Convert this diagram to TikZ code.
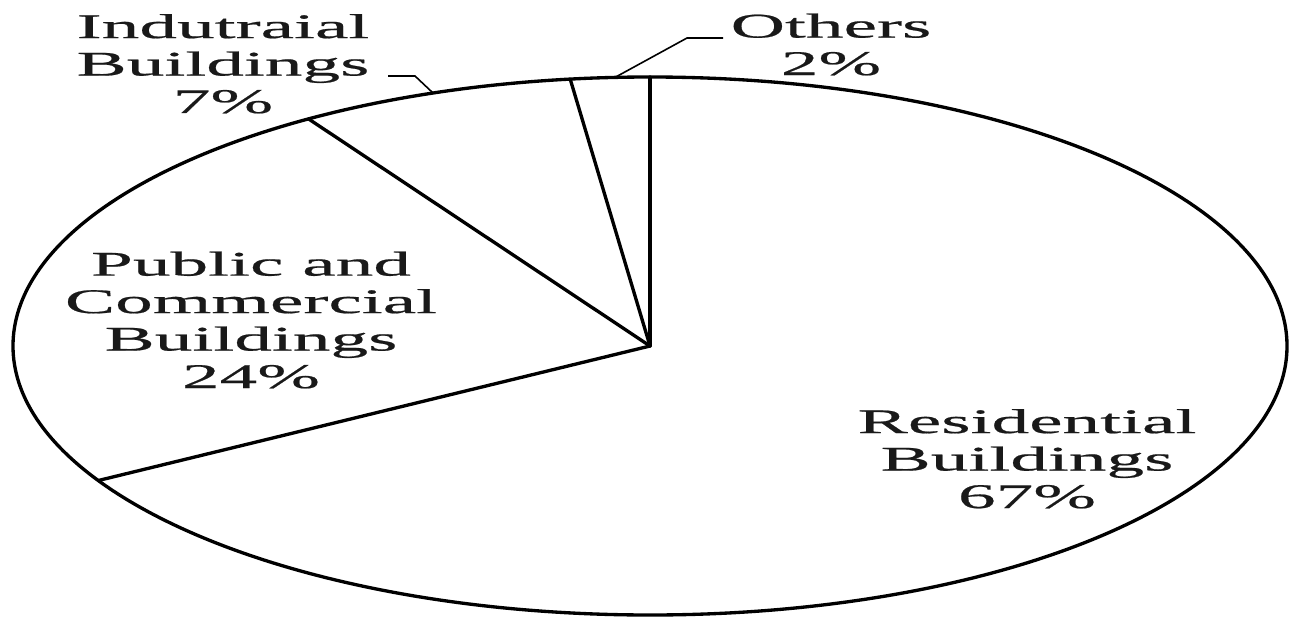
\documentclass[tikz,border=0pt]{standalone}
\usepackage{fontspec}
\newfontfamily\piefont[FakeStretch=2.18,FakeBold=0.6]{Liberation Serif}
\begin{document}
\begin{tikzpicture}[x=0.75pt,y=0.75pt,yscale=-1,xscale=1,
	rim/.style={line width=2.5pt},
	slice/.style={line width=2.5pt, line cap=round},
	leader/.style={line width=1.2pt},
	pielabel/.style={inner sep=0pt, anchor=base, align=center, text=black!90,
		font=\piefont\fontsize{25.9}{28.1}\selectfont}]
		\useasboundingbox (0,0) rectangle (1291,617);

		%Shape: Ellipse (pie rim)
		\coordinate (o) at (650,346);
		\draw [rim] (o) ellipse [x radius=637, y radius=269];

		%Rim points between the slices
		\coordinate (res) at (650,77);
		\coordinate (oth) at (570.2,79.1);
		\coordinate (ind) at (308.7,119);
		\coordinate (pub) at (98.4,480.5);

		%Straight Lines (slice borders)
		\foreach \p in {res,oth,ind,pub}
			\draw [slice] (o) -- (\p);

		% Text Node
		\node [pielabel] (reslbl) at (1027,508) {Residential\\Buildings\\67\%};
		% Text Node
		\node [pielabel] (publbl) at (251,388) {Public and\\Commercial\\Buildings\\24\%};
		% Text Node
		\node [pielabel] (indlbl) at (223,113) {Indutraial\\Buildings\\7\%};
		% Text Node
		\node [pielabel] (othlbl) at (831,75) {Others\\2\%};

		%Straight Lines (leaders)
		\coordinate (indfoot) at (388,76);
		\coordinate (indknee) at (415,76);
		\coordinate (indtip) at (433,93);
		\draw [leader] (indfoot) -- (indknee) -- (indtip);
		\coordinate (othfoot) at (723,38);
		\coordinate (othknee) at (687,38);
		\coordinate (othtip) at (615,77.4);
		\draw [leader] (othfoot) -- (othknee) -- (othtip);

\end{tikzpicture}
\end{document}
